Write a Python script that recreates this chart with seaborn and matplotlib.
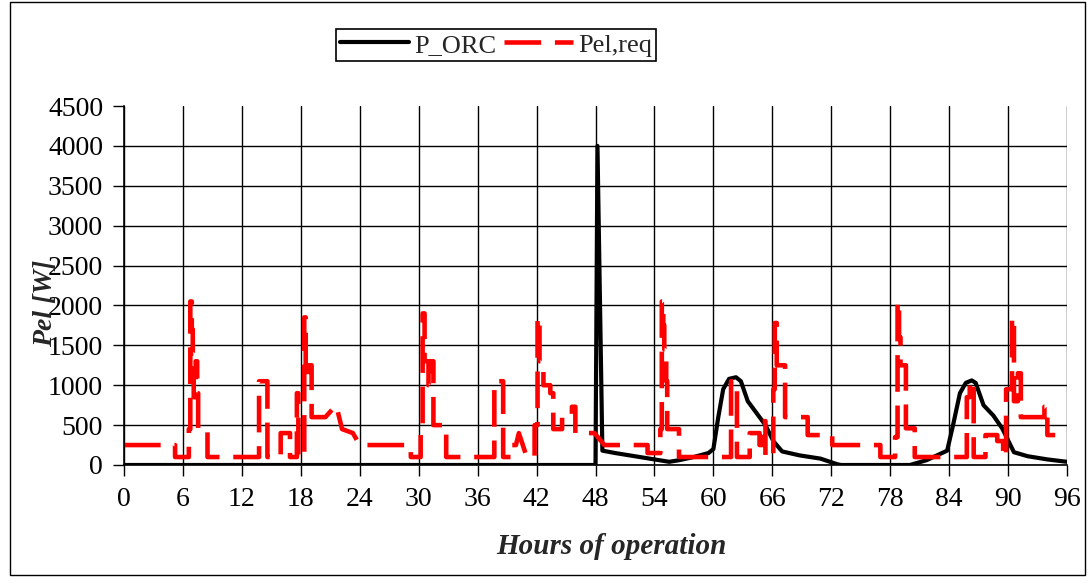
import matplotlib
matplotlib.use("Agg")
import matplotlib.pyplot as plt
import pandas as pd
import seaborn as sns
from matplotlib.patches import Rectangle

# ---- data ----
hours_req = [0, 5.2, 5.2, 6.6, 6.6, 6.75, 6.75, 6.9, 6.9, 7.0, 7.0, 7.1, 7.1, 7.3, 7.3, 7.45, 7.45, 7.55, 7.55, 8.5, 8.5,
             13.75, 13.75, 14.6, 14.6, 15.95, 15.95, 16.9, 16.9, 17.6, 17.6, 17.75, 17.75, 18.35, 18.35, 18.5, 18.5,
             18.8, 18.8, 19.1, 19.1, 20.5, 21.6, 22.2, 23.3, 24.0, 29.2, 29.2, 30.2, 30.2, 30.4, 30.4, 30.6, 30.6,
             31.0, 31.0, 31.2, 31.2, 31.5, 31.5, 32.8, 32.8, 37.7, 37.7, 38.6, 38.6, 39.5, 39.5, 39.9, 40.2, 41.0,
             41.8, 41.8, 42.1, 42.1, 42.3, 42.3, 42.7, 42.7, 43.4, 43.4, 43.7, 43.7, 44.6, 44.6, 45.6, 45.6, 45.95,
             45.95, 47.9, 48.9, 53.3, 53.3, 54.6, 54.6, 54.75, 54.75, 54.9, 54.9, 55.0, 55.0, 55.1, 55.1, 55.2, 55.2,
             55.3, 55.3, 56.5, 56.5, 61.8, 61.8, 62.4, 62.4, 63.7, 63.7, 64.7, 64.7, 65.0, 65.0, 65.3, 65.3, 66.1,
             66.1, 66.25, 66.25, 66.45, 66.45, 67.3, 67.3, 69.6, 69.6, 72.1, 72.1, 77.0, 77.0, 78.5, 78.5, 78.75,
             78.75, 78.9, 78.9, 79.05, 79.05, 79.6, 79.6, 80.5, 80.5, 85.8, 85.8, 86.1, 86.1, 86.5, 86.5, 87.7, 87.7,
             88.9, 88.9, 89.5, 89.5, 89.8, 89.8, 90.4, 90.4, 90.6, 90.6, 91.0, 91.0, 91.3, 91.3, 93.7, 93.7, 94.0,
             94.0, 94.8]
pel_req = [250, 250, 100, 100, 450, 450, 2050, 2050, 1700, 1700, 1400, 1400, 850, 850, 1300, 1300, 900, 900, 450, 450, 100,
           100, 1050, 1050, 100, 100, 400, 400, 100, 100, 900, 900, 100, 100, 1850, 1850, 1100,
           1100, 1250, 1250, 600, 600, 750, 450, 400, 250, 250, 100, 100, 500, 500, 1900, 1900, 1300,
           1300, 1000, 1000, 1300, 1300, 500, 500, 100, 100, 1050, 1050, 100, 100, 250, 250, 400, 100,
           100, 500, 500, 1850, 1850, 1300, 1300, 1000, 1000, 900, 900, 450, 450, 600, 600, 730, 730,
           400, 400, 250, 250, 150, 150, 450, 450, 2050, 2050, 1750, 1750, 1450, 1450, 1300, 1300, 1050,
           1050, 450, 450, 100, 100, 1050, 1050, 100, 100, 400, 400, 250, 250, 550, 550, 100, 100,
           950, 950, 1780, 1780, 1250, 1250, 600, 600, 375, 375, 250, 250, 100, 100, 350, 350,
           2050, 2050, 1600, 1600, 1250, 1250, 460, 460, 100, 100, 850, 850, 1050, 1050, 100, 100, 375,
           375, 300, 300, 100, 100, 950, 950, 1850, 1850, 800, 800, 1150, 1150, 600, 600, 730,
           730, 375, 375]

hours_orc = [0, 48.0, 48.2, 48.7, 50, 52, 54, 55.5, 56.5, 58, 59.5, 60.0, 60.5, 61.0, 61.6, 62.3, 62.8, 63.5, 64.4,
             65.3, 66.1, 67.0, 68.8, 70.9, 72.6, 73, 80, 81.7, 83.8, 84.4, 85.1, 85.7, 86.3, 86.7, 87.5, 88.5, 89.4,
             90.6, 92, 94, 96]
p_orc = [0, 0, 4000, 180, 150, 110, 70, 40, 60, 100, 150, 200, 600, 950, 1080, 1100, 1050, 800, 650,
         500, 300, 170, 120, 80, 10, 0, 0, 60, 180, 500, 900, 1030, 1060, 1030, 750, 620, 460,
         160, 110, 70, 40]

x_ticks = list(range(0, 97, 6))
y_ticks = list(range(0, 4501, 500))

sns.set_theme(style="white")
plt.rcParams["font.family"] = ["Liberation Serif", "DejaVu Serif"]

fig = plt.figure(figsize=(10.9, 5.85), dpi=100)
ax = fig.add_axes([124 / 1090, 1 - 465 / 585, 943 / 1090, 359 / 585])

df_orc = pd.DataFrame({"h": hours_orc, "P": p_orc})
df_req = pd.DataFrame({"h": hours_req, "P": pel_req})

sns.lineplot(data=df_orc, x="h", y="P", ax=ax, color="black", linewidth=3,
             estimator=None, sort=False, label="P_ORC")
sns.lineplot(data=df_req, x="h", y="P", ax=ax, color="red", linewidth=3.3,
             estimator=None, sort=False, label="Pel,req")
ax.get_lines()[1].set_dashes([8, 3])

ax.set_xlim(0, 96)
ax.set_ylim(0, 4500)
ax.set_xticks(x_ticks)
ax.set_yticks(y_ticks)
ax.grid(True, color="black", linewidth=1)
ax.set_axisbelow(True)
ax.get_ygridlines()[-1].set_visible(False)

for s in ["top", "right"]:
    ax.spines[s].set_visible(False)
for s in ["left", "bottom"]:
    ax.spines[s].set_color("black")
    ax.spines[s].set_linewidth(1.2)

ax.tick_params(axis="both", direction="out", length=8, width=1, color="black",
               labelsize=20, labelcolor="black", bottom=True, left=True)
ax.tick_params(axis="y", pad=7)
ax.tick_params(axis="x", pad=8)

ax.set_xlabel("Hours of operation", fontsize=21, fontweight="bold", fontstyle="italic")
ax.xaxis.set_label_coords((611 - 124) / 943, (465 - 533) / 359)
ax.set_ylabel("Pel [W]", fontsize=20, fontweight="bold", fontstyle="italic")
ax.yaxis.set_label_coords((58 - 124) / 943, (465 - 303) / 359)

handles, labels = ax.get_legend_handles_labels()
ax.get_legend().remove()
leg = fig.legend(handles, labels, loc="center", bbox_to_anchor=(496 / 1090, 1 - 45 / 585),
                 ncol=2, frameon=True, fancybox=False, shadow=False, fontsize=19,
                 borderpad=0.15, handlelength=2.6, handletextpad=0.2, columnspacing=0.3,
                 borderaxespad=0.0, framealpha=1)
leg.get_frame().set_edgecolor("black")
leg.get_frame().set_linewidth(1.2)
leg.get_lines()[1].set_dashes([8, 3])

fig.patches.append(Rectangle((10 / 1090, 10 / 585), 1075 / 1090, 573 / 585,
                             transform=fig.transFigure, fill=False,
                             edgecolor="black", linewidth=1))

fig.savefig("out.png", dpi=100)
